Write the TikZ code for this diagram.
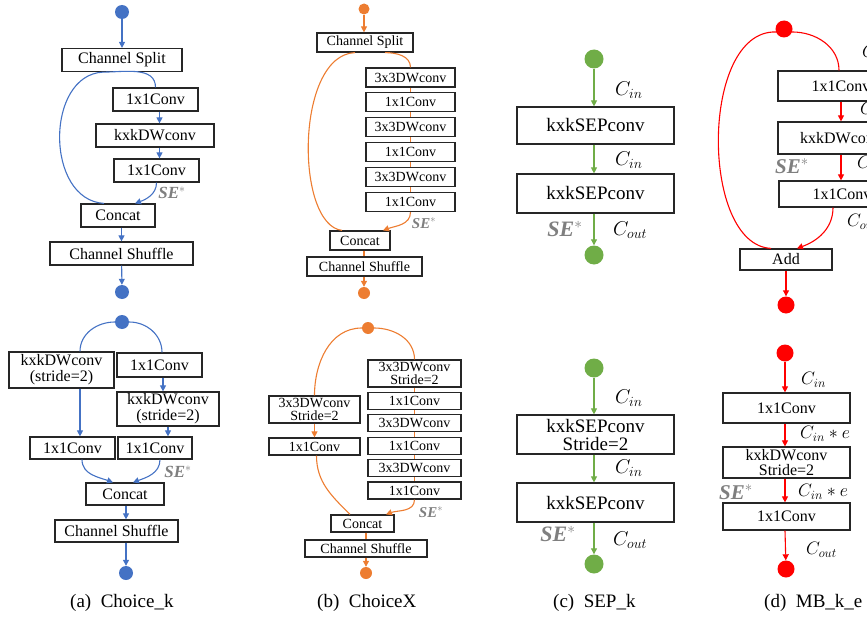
\RequirePackage{fix-cm}
\documentclass[tikz,border=0pt]{standalone}
\usepackage{fontspec}
\setmainfont{Liberation Serif}
\usetikzlibrary{arrows.meta}

\definecolor{blueA}{RGB}{68,114,196}
\definecolor{orangeB}{RGB}{237,125,49}
\definecolor{greenC}{RGB}{112,173,71}
\definecolor{redD}{RGB}{255,0,0}
\definecolor{seGray}{RGB}{127,127,127}

\tikzset{
  blk/.style 2 args={draw=black!85, line width=1.2pt, inner sep=0pt, align=center,
    minimum width=#1pt, minimum height=#2pt},
  fa/.style={font=\fontsize{16}{16}\selectfont},
  fb/.style={font=\fontsize{14}{13}\selectfont},
  fc/.style={font=\fontsize{19}{18}\selectfont},
  dot/.style 2 args={circle, inner sep=0pt, fill=#1, minimum size=#2pt},
  lnk/.style={line width=1.1pt},
  flow/.style={lnk, -{Triangle[length=6pt,width=6pt]}},
  se/.style={text=seGray, font=\fontsize{#1}{#1}\selectfont\bfseries\itshape},
  se/.default=17,
  cc/.style={anchor=west, inner sep=0pt, font=\fontsize{#1}{#1}\selectfont},
  cc/.default=20,
  captxt/.style={anchor=west, inner sep=0pt, font=\fontsize{19}{20}\selectfont},
}

\begin{document}
\begin{tikzpicture}[x=1pt,y=-1pt]
\clip (0,0) rectangle (867,623);

% (a) Choice_k, upper block
\node[dot={blueA}{14}] (a1in) at (122,12) {};
\node[blk={120}{23}, fa] (a1split) at (122,60) {Channel Split};
\node[blk={85}{23}, fa] (a1c1) at (155.5,99.5) {1x1Conv};
\node[blk={118}{23}, fa] (a1dw) at (155,135.5) {kxkDWconv};
\node[blk={85}{23}, fa] (a1c2) at (156.5,170.5) {1x1Conv};
\node[blk={74}{23}, fa] (a1cat) at (118,215.5) {Concat};
\node[blk={143}{23}, fa] (a1shuf) at (121.5,253.5) {Channel Shuffle};
\node[dot={blueA}{14}] (a1out) at (122,292) {};
\node[se] (a1se) at (172,193) {SE$^{*}$};
\begin{scope}[blueA]
\draw[flow] (a1in) -- (a1split);
\draw[lnk] ([xshift=-19pt]a1split.south) .. controls (45,75) and (45,200) .. ([xshift=-14pt]a1cat.north);
\draw[lnk] ([xshift=-19pt]a1split.south) to[out=0,in=90] (a1c1.north);
\draw[flow] ([xshift=4pt]a1c1.south) -- ([xshift=4pt]a1c1.south |- a1dw.north);
\draw[flow] ([xshift=4pt]a1c1.south |- a1dw.south) -- ([xshift=4pt]a1c1.south |- a1c2.north);
\draw[flow] (a1c2.south) to[out=-90,in=20] ([xshift=17pt]a1cat.north);
\draw[flow] (a1shuf.north |- a1cat.south) -- (a1shuf.north);
\draw[flow] (a1shuf) -- (a1out);
\end{scope}

% (a) Choice_k, lower block
\node[dot={blueA}{14}] (a2in) at (122,322) {};
\node[blk={105}{36}, fa] (a2dwl) at (61.5,370) {kxkDWconv\\(stride=2)};
\node[blk={85}{24}, fa] (a2c1) at (159.5,365) {1x1Conv};
\node[blk={102}{34}, fa] (a2dwr) at (168,409) {kxkDWconv\\(stride=2)};
\node[blk={85}{22}, fa] (a2cl) at (72.5,448) {1x1Conv};
\node[blk={74}{22}, fa] (a2cr) at (155,448) {1x1Conv};
\node[blk={78}{22}, fa] (a2cat) at (125,494) {Concat};
\node[blk={123}{22}, fa] (a2shuf) at (116.5,531) {Channel Shuffle};
\node[dot={blueA}{14}] (a2out) at (126,573) {};
\node[se] (a2se) at (178,472) {SE$^{*}$};
\begin{scope}[blueA]
\draw[lnk] (a2in.west) to[out=180,in=90] ([xshift=18.5pt]a2dwl.north);
\draw[lnk] (a2in.east) to[out=0,in=90] ([xshift=2.5pt]a2c1.north);
\draw[flow] ([xshift=3.5pt]a2c1.south) -- ([xshift=3.5pt]a2c1.south |- a2dwr.north);
\draw[flow] ([xshift=18.5pt]a2dwl.south) -- ([xshift=18.5pt]a2dwl.south |- a2cl.north);
\draw[flow] (a2dwr.south) -- (a2dwr.south |- a2cr.north);
\draw[flow] ([xshift=9.5pt]a2cl.south) to[out=-90,in=160] ([xshift=-12pt]a2cat.north);
\draw[flow] ([xshift=5pt]a2cr.south) to[out=-90,in=20] ([xshift=8pt]a2cat.north);
\draw[flow] (a2out |- a2cat.south) -- (a2out |- a2shuf.north);
\draw[flow] (a2out |- a2shuf.south) -- (a2out);
\end{scope}
\node[captxt] (capa) at (70,603) {(a)\enspace Choice\_k};

% (b) ChoiceX, upper block
\node[dot={orangeB}{11}] (b1in) at (364,9) {};
\node[blk={96}{19}, fb] (b1split) at (365,42.5) {Channel Split};
\foreach \t [count=\i] in {3x3DWconv,1x1Conv,3x3DWconv,1x1Conv,3x3DWconv,1x1Conv}
  \node[blk={89}{19}, fb] (b1s\i) at (410.5,52.6+24.9*\i) {\t};
\node[blk={60}{19}, fb] (b1cat) at (360,240.5) {Concat};
\node[blk={115}{19}, fb] (b1shuf) at (364.5,266.5) {Channel Shuffle};
\node[dot={orangeB}{12}] (b1out) at (364,293) {};
\node[se=15] (b1se) at (424,223) {SE$^{*}$};
\begin{scope}[orangeB]
\draw[flow] (b1in) -- (b1in |- b1split.north);
\draw[lnk] ([xshift=-10pt]b1split.south) .. controls (295,55) and (295,225) .. ([xshift=-18pt]b1cat.north);
\draw[lnk] ([xshift=20pt]b1split.south) to[out=0,in=90] (b1s1.north);
\foreach \i/\j in {1/2,2/3,3/4,4/5,5/6}
  \draw[lnk, line width=0.8pt] (b1s\i.south) -- (b1s\j.north);
\draw[flow] (b1s6.south) to[out=-90,in=20] ([xshift=23pt]b1cat.north);
\draw[lnk] (b1in |- b1cat.south) -- (b1in |- b1shuf.north);
\draw[flow] (b1in |- b1shuf.south) -- (b1out);
\end{scope}

% (b) ChoiceX, lower block
\node[dot={orangeB}{12}] (b2in) at (368,328) {};
\node[blk={91}{27}, fb] (b2dwl) at (314.5,409.5) {3x3DWconv\\Stride=2};
\node[blk={91}{17}, fb] (b2cl) at (314.5,446.5) {1x1Conv};
\node[blk={93}{27}, fb] (b2s1) at (414.5,373.5) {3x3DWconv\\Stride=2};
\foreach \t [count=\i from 2] in {1x1Conv,3x3DWconv,1x1Conv,3x3DWconv,1x1Conv}
  \node[blk={93}{17}, fb] (b2s\i) at (414.5,356.1+22.4*\i) {\t};
\node[blk={63}{17}, fb] (b2cat) at (362.5,523.5) {Concat};
\node[blk={122}{17}, fb] (b2shuf) at (366,548.5) {Channel Shuffle};
\node[dot={orangeB}{12}] (b2out) at (366,573) {};
\node[se=15] (b2se) at (431,512) {SE$^{*}$};
\begin{scope}[orangeB]
\draw[lnk] (b2in.west) to[out=180,in=90] (b2dwl.north);
\draw[lnk] (b2in.east) to[out=0,in=90] (b2s1.north);
\draw[flow] (b2dwl) -- (b2cl);
\foreach \i/\j in {1/2,2/3,3/4,4/5,5/6}
  \draw[lnk, line width=0.8pt] (b2s\i.south) -- (b2s\j.north);
\draw[lnk] ([xshift=2pt]b2cl.south) to[out=-90,in=135] ([xshift=-12.5pt]b2cat.north);
\draw[flow] (b2s6.south) to[out=-90,in=20] ([xshift=23.5pt]b2cat.north);
\draw[lnk] (b2out |- b2cat.south) -- (b2out |- b2shuf.north);
\draw[flow] (b2out |- b2shuf.south) -- (b2out);
\end{scope}
\node[captxt] (capb) at (317,603) {(b)\enspace ChoiceX};

% (c) SEP_k, upper block
\node[dot={greenC}{19}] (c1in) at (594,59) {};
\node[blk={157}{37}, fc] (c1sep1) at (595.5,125.5) {kxkSEPconv};
\node[blk={157}{39}, fc] (c1sep2) at (595.5,193.5) {kxkSEPconv};
\node[dot={greenC}{19}] (c1out) at (594,255) {};
\node[cc] (c1l1) at (615,90) {$C_{in}$};
\node[cc] (c1l2) at (615,160) {$C_{in}$};
\node[cc] (c1l3) at (613,230) {$C_{out}$};
\node[se=22] (c1se) at (565,229) {SE$^{*}$};
\begin{scope}[greenC]
\draw[flow] (c1in) -- (c1in |- c1sep1.north);
\draw[flow] (c1in |- c1sep1.south) -- (c1in |- c1sep2.north);
\draw[flow] (c1in |- c1sep2.south) -- (c1out);
\end{scope}

% (c) SEP_k, lower block
\node[dot={greenC}{19}] (c2in) at (594,368) {};
\node[blk={157}{39}, fc] (c2sep1) at (595.5,434.5) {kxkSEPconv\\Stride=2};
\node[blk={157}{39}, fc] (c2sep2) at (595.5,502.5) {kxkSEPconv};
\node[dot={greenC}{19}] (c2out) at (594,564) {};
\node[cc] (c2l1) at (615,398) {$C_{in}$};
\node[cc] (c2l2) at (615,468) {$C_{in}$};
\node[cc] (c2l3) at (613,540) {$C_{out}$};
\node[se=22] (c2se) at (558,534) {SE$^{*}$};
\begin{scope}[greenC]
\draw[flow] (c2in) -- (c2in |- c2sep1.north);
\draw[flow] (c2in |- c2sep1.south) -- (c2in |- c2sep2.north);
\draw[flow] (c2in |- c2sep2.south) -- (c2out);
\end{scope}
\node[captxt] (capc) at (553,603) {(c)\enspace SEP\_k};

% (d) MB_k_e, upper block
\node[dot={redD}{17}] (d1in) at (784,29) {};
\node[blk={126}{30}, fa] (d1c1) at (841,86) {1x1Conv};
\node[blk={126}{32}, fa] (d1dw) at (841,138) {kxkDWconv};
\node[blk={126}{26}, fa] (d1c2) at (842,194) {1x1Conv};
\node[blk={92}{21}, fa] (d1add) at (786,259.5) {Add};
\node[dot={redD}{17}] (d1out) at (786,305) {};
\node[cc=18] (d1l1) at (862,53) {$C_{in}$};
\node[cc=18] (d1l2) at (860,110) {$C_{in}*e$};
\node[cc=18] (d1l3) at (857,164) {$C_{in}*e$};
\node[cc=18] (d1l4) at (847,222) {$C_{out}$};
\node[se=21] (d1se) at (792,166) {SE$^{*}$};
\begin{scope}[redD]
\draw[lnk] (d1in.-20) to[out=0,in=90] ([xshift=-2pt]d1c1.north);
\draw[lnk] (d1in.200) .. controls (700,30) and (700,245) .. ([xshift=-15pt]d1add.north);
\draw[flow] (d1c1.south) -- (d1c1.south |- d1dw.north);
\draw[flow] (d1c1.south |- d1dw.south) -- (d1c1.south |- d1c2.north);
\draw[flow] ([xshift=-9pt]d1c2.south) to[out=-90,in=20] ([xshift=11pt]d1add.north);
\draw[flow] (d1add) -- (d1out);
\end{scope}

% (d) MB_k_e, lower block
\node[dot={redD}{17}] (d2in) at (785,353) {};
\node[blk={127}{30}, fa] (d2c1) at (786.5,408) {1x1Conv};
\node[blk={127}{31}, fa, font=\fontsize{16}{15}\selectfont] (d2dw) at (786.5,462.5) {kxkDWconv\\Stride=2};
\node[blk={127}{27}, fa] (d2c2) at (786.5,516.5) {1x1Conv};
\node[dot={redD}{17}] (d2out) at (786,569) {};
\node[cc=18] (d2l1) at (801,380) {$C_{in}$};
\node[cc=18] (d2l2) at (800,434) {$C_{in}*e$};
\node[cc=18] (d2l3) at (798,492) {$C_{in}*e$};
\node[cc=18] (d2l4) at (806,550) {$C_{out}$};
\node[se=21] (d2se) at (736,492) {SE$^{*}$};
\begin{scope}[redD]
\draw[flow] (d2in) -- (d2in |- d2c1.north);
\draw[flow] (d2in |- d2c1.south) -- (d2in |- d2dw.north);
\draw[flow] (d2in |- d2dw.south) -- (d2in |- d2c2.north);
\draw[flow] (d2in |- d2c2.south) -- (d2out);
\end{scope}
\node[captxt] (capd) at (764,603) {(d)\enspace MB\_k\_e};
\end{tikzpicture}
\end{document}
